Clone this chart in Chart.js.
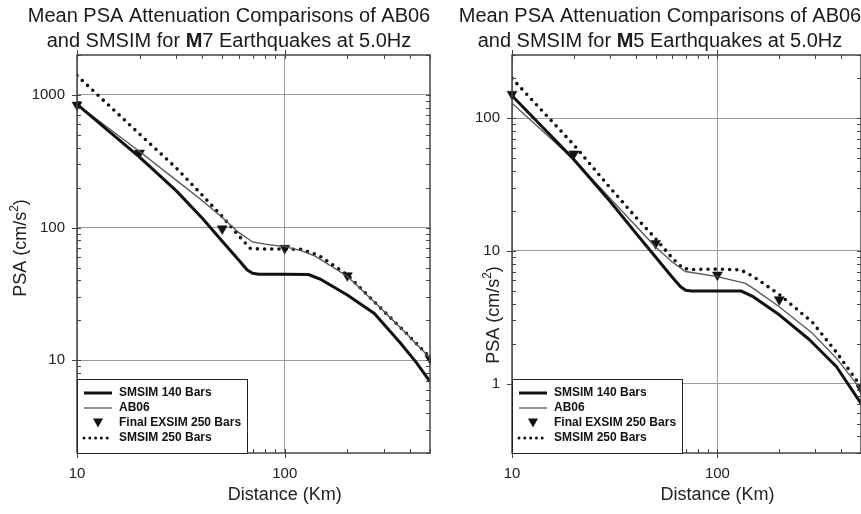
<!DOCTYPE html>
<html>
<head>
<meta charset="utf-8">
<script src="https://cdn.jsdelivr.net/npm/chart.js@4.4.1/dist/chart.umd.min.js"></script>
<style>
  body { margin: 0; background: #fff; }
  #wrap { position: relative; width: 861px; height: 514px; }
  canvas { position: absolute; top: 0; }
  #c1 { left: 0; }
  #c2 { left: 431px; }
</style>
</head>
<body>
<div id="wrap">
  <canvas id="c1" width="431" height="514"></canvas>
  <canvas id="c2" width="430" height="514"></canvas>
</div>
<script>
// ---- M7 panel ----
const m7Dist140 = [10, 20, 30, 40, 50, 60, 66, 70, 75, 100, 130, 150, 200, 270, 360, 430, 500];
const m7Psa140  = [850, 340, 190, 118, 79, 57, 48, 45.2, 44.5, 44.5, 44.3, 40.5, 31, 22.5, 13.5, 9.6, 6.9];
const m7DistAB  = [10, 15, 20, 30, 40, 50, 60, 70, 80, 100, 120, 140, 200, 280, 380, 500];
const m7PsaAB   = [850, 525, 375, 228, 160, 119, 92, 78, 75, 72, 67, 61, 43, 26, 16.2, 10.4];
const m7Dist250 = [10, 20, 30, 40, 50, 60, 68, 75, 100, 120, 141, 150, 200, 280, 380, 500];
const m7Psa250  = [1400, 507, 282, 176, 121, 87, 70, 69, 69, 68.5, 63, 60, 44, 26, 16.3, 10.5];
const m7DistEx  = [10, 20, 50, 100, 200, 500];
const m7PsaEx   = [840, 365, 98, 70, 43.5, 10.3];
const m7YTicks  = [2, 3, 4, 5, 6, 7, 8, 9, 10, 20, 30, 40, 50, 60, 70, 80, 90,
                   100, 200, 300, 400, 500, 600, 700, 800, 900, 1000, 2000];
const m7YLabels = [10, 100, 1000];

// ---- M5 panel ----
const m5Dist140 = [10, 20, 30, 40, 50, 60, 66, 70, 75, 100, 130, 150, 200, 280, 380, 500];
const m5Psa140  = [148, 49, 23.7, 13.7, 9.0, 6.4, 5.4, 5.05, 5.0, 5.0, 5.0, 4.5, 3.3, 2.15, 1.34, 0.71];
const m5DistAB  = [10, 20, 30, 40, 50, 60, 70, 100, 137, 150, 200, 290, 380, 500];
const m5PsaAB   = [130, 49, 25, 15.5, 10.7, 8.3, 7.0, 6.4, 5.7, 5.2, 3.8, 2.4, 1.55, 0.9];
const m5Dist250 = [10, 20, 30, 40, 50, 60, 68, 75, 100, 130, 150, 200, 290, 380, 500];
const m5Psa250  = [200, 63, 30, 18, 12.4, 8.9, 7.4, 7.25, 7.3, 7.2, 6.4, 4.7, 2.9, 1.72, 0.95];
const m5DistEx  = [10, 20, 50, 100, 200, 500];
const m5PsaEx   = [152, 54, 11.4, 6.6, 4.3, 0.92];
const m5YTicks  = [0.3, 0.4, 0.5, 0.6, 0.7, 0.8, 0.9, 1, 2, 3, 4, 5, 6, 7, 8, 9,
                   10, 20, 30, 40, 50, 60, 70, 80, 90, 100, 200, 300];
const m5YLabels = [1, 10, 100];

// ---- shared x axis ----
const xTicks  = [10, 20, 30, 40, 50, 60, 70, 80, 90, 100, 200, 300, 400, 500];
const xLabels = [10, 100];

const FONT = "'Liberation Sans', Arial, sans-serif";

function pts(xs, ys) {
  return xs.map((x, i) => ({ x: x, y: ys[i] }));
}

const framePlugin = {
  id: 'frame',
  afterDraw(chart, args, o) {
    const ctx = chart.ctx, a = chart.chartArea;
    const xs = chart.scales.x, ys = chart.scales.y;
    ctx.save();

    // inward ticks, majors cross the axis
    ctx.strokeStyle = '#444';
    ctx.lineWidth = 1;
    ctx.beginPath();
    xs.ticks.forEach(t => {
      const px = Math.round(xs.getPixelForValue(t.value)) + 0.5;
      const major = xLabels.includes(t.value);
      ctx.moveTo(px, a.bottom + (major ? 5 : 0)); ctx.lineTo(px, a.bottom - 4);
      ctx.moveTo(px, a.top - (major ? 5 : 0)); ctx.lineTo(px, a.top + 4);
    });
    ys.ticks.forEach(t => {
      const py = Math.round(ys.getPixelForValue(t.value)) + 0.5;
      const major = o.yLabels.includes(t.value);
      ctx.moveTo(a.left - (major ? 5 : 0), py); ctx.lineTo(a.left + 4, py);
      ctx.moveTo(a.right + (major ? 5 : 0), py); ctx.lineTo(a.right - 4, py);
    });
    ctx.stroke();

    ctx.lineWidth = 1.5;
    ctx.strokeStyle = '#444';
    ctx.strokeRect(a.left, a.top, a.right - a.left, a.bottom - a.top);

    // main title, with bold M
    ctx.fillStyle = '#1a1a1a';
    ctx.textBaseline = 'alphabetic';
    ctx.textAlign = 'left';
    const reg = '20px ' + FONT, bold = 'bold 20px ' + FONT;
    ctx.font = reg;
    const l1 = 'Mean PSA Attenuation Comparisons of AB06';
    ctx.fillText(l1, o.titleX - ctx.measureText(l1).width / 2, 22);
    const p1 = 'and SMSIM for ', p2 = 'M', p3 = o.mag + ' Earthquakes at 5.0Hz';
    const w1 = ctx.measureText(p1).width, w3 = ctx.measureText(p3).width;
    ctx.font = bold;
    const w2 = ctx.measureText(p2).width;
    let x = o.titleX - (w1 + w2 + w3) / 2;
    ctx.font = reg; ctx.fillText(p1, x, 46.5); x += w1;
    ctx.font = bold; ctx.fillText(p2, x, 46.5); x += w2;
    ctx.font = reg; ctx.fillText(p3, x, 46.5);

    // x axis title
    ctx.font = '18px ' + FONT;
    ctx.textAlign = 'center';
    ctx.textBaseline = 'middle';
    ctx.fillStyle = '#222';
    ctx.fillText('Distance (Km)', xs.getPixelForValue(100), 495);

    // y axis title with superscript
    ctx.save();
    ctx.translate(o.yTitleX, o.yTitleY);
    ctx.rotate(-Math.PI / 2);
    ctx.textAlign = 'left';
    const s1 = 'PSA (cm/s', s2 = '2', s3 = ')';
    ctx.font = '18px ' + FONT;
    const q1 = ctx.measureText(s1).width, q3 = ctx.measureText(s3).width;
    ctx.font = '12px ' + FONT;
    const q2 = ctx.measureText(s2).width;
    let yx = -(q1 + q2 + q3) / 2;
    ctx.font = '18px ' + FONT; ctx.fillText(s1, yx, 0); yx += q1;
    ctx.font = '12px ' + FONT; ctx.fillText(s2, yx, -6); yx += q2;
    ctx.font = '18px ' + FONT; ctx.fillText(s3, yx, 0);
    ctx.restore();

    // legend box in lower-left corner
    const bx = a.left, by = a.bottom - 74, bw = 170, bh = 74;
    ctx.fillStyle = '#fff';
    ctx.fillRect(bx, by, bw, bh);
    ctx.lineWidth = 1;
    ctx.strokeStyle = '#222';
    ctx.strokeRect(bx + 0.5, by + 0.5, bw, bh);
    const rows = [a.bottom - 60, a.bottom - 45, a.bottom - 30.5, a.bottom - 15];
    chart.data.datasets.forEach((ds, i) => {
      const ry = rows[i];
      ctx.save();
      if (ds.showLine === false) {
        ctx.fillStyle = ds.backgroundColor;
        ctx.beginPath();
        ctx.moveTo(bx + 16, ry - 4);
        ctx.lineTo(bx + 26, ry - 4);
        ctx.lineTo(bx + 21, ry + 5);
        ctx.closePath();
        ctx.fill();
      } else {
        ctx.strokeStyle = ds.borderColor;
        ctx.lineWidth = ds.borderDash ? 3 : ds.borderWidth;
        ctx.lineCap = ds.borderDash ? 'round' : 'butt';
        ctx.setLineDash(ds.borderDash ? [0, 5.8] : []);
        ctx.beginPath();
        ctx.moveTo(bx + 7, ry);
        ctx.lineTo(bx + 35, ry);
        ctx.stroke();
      }
      ctx.restore();
      ctx.fillStyle = '#111';
      ctx.font = 'bold 12px ' + FONT;
      ctx.textAlign = 'left';
      ctx.textBaseline = 'middle';
      ctx.fillText(ds.label, bx + 42, ry);
    });

    ctx.restore();
  }
};

function makeChart(id, o) {
  new Chart(document.getElementById(id), {
    type: 'line',
    data: {
      datasets: [
        { label: 'SMSIM 140 Bars', data: pts(o.d140, o.v140), borderColor: '#111',
          borderWidth: 3, pointRadius: 0, tension: 0, borderJoinStyle: 'round' },
        { label: 'AB06', data: pts(o.dAB, o.vAB), borderColor: '#555',
          borderWidth: 1.3, pointRadius: 0, tension: 0 },
        { label: 'Final EXSIM 250 Bars', data: pts(o.dEx, o.vEx), showLine: false,
          pointStyle: 'triangle', rotation: 180, pointRadius: 5.8,
          backgroundColor: '#111', borderColor: '#111', borderWidth: 0.5, clip: false },
        { label: 'SMSIM 250 Bars', data: pts(o.d250, o.v250), borderColor: '#111',
          borderWidth: 3.6, borderDash: [0, 7.2], borderCapStyle: 'round',
          pointRadius: 0, tension: 0 }
      ]
    },
    options: {
      responsive: false,
      animation: false,
      events: [],
      layout: { autoPadding: false, padding: { top: 55, right: o.padRight, bottom: 0, left: 0 } },
      plugins: {
        legend: { display: false },
        tooltip: { enabled: false },
        frame: { mag: o.mag, yLabels: o.yLabels, titleX: 229, yTitleX: o.yTitleX, yTitleY: o.yTitleY }
      },
      scales: {
        x: {
          type: 'logarithmic', min: 10, max: 500, bounds: 'data',
          afterBuildTicks: s => { s.ticks = xTicks.map(v => ({ value: v })); },
          afterFit: s => { s.height = 61; s.paddingLeft = 0; s.paddingRight = 0; },
          grid: {
            drawTicks: false,
            color: c => (c.tick && xLabels.includes(c.tick.value)) ? '#9a9a9a' : 'rgba(0,0,0,0)',
            lineWidth: 1
          },
          border: { display: false },
          ticks: {
            autoSkip: false, maxRotation: 0, padding: 12, color: '#222',
            font: { family: FONT, size: 15 },
            callback: v => xLabels.includes(v) ? String(v) : ''
          }
        },
        y: {
          type: 'logarithmic', min: o.yMin, max: o.yMax, bounds: 'data',
          afterBuildTicks: s => { s.ticks = o.yTicks.map(v => ({ value: v })); },
          afterFit: s => { s.width = o.axisWidth; s.paddingTop = 0; s.paddingBottom = 0; },
          grid: {
            drawTicks: false,
            color: c => (c.tick && o.yLabels.includes(c.tick.value)) ? '#9a9a9a' : 'rgba(0,0,0,0)',
            lineWidth: 1
          },
          border: { display: false },
          ticks: {
            autoSkip: false, padding: 12, color: '#222',
            font: { family: FONT, size: 15 },
            callback: v => o.yLabels.includes(v) ? String(v) : ''
          }
        }
      }
    },
    plugins: [framePlugin]
  });
}

makeChart('c1', {
  mag: '7', d140: m7Dist140, v140: m7Psa140, dAB: m7DistAB, vAB: m7PsaAB,
  d250: m7Dist250, v250: m7Psa250, dEx: m7DistEx, vEx: m7PsaEx,
  yMin: 2, yMax: 2000, yTicks: m7YTicks, yLabels: m7YLabels,
  axisWidth: 77, padRight: 1, yTitleX: 21, yTitleY: 248
});

makeChart('c2', {
  mag: '5', d140: m5Dist140, v140: m5Psa140, dAB: m5DistAB, vAB: m5PsaAB,
  d250: m5Dist250, v250: m5Psa250, dEx: m5DistEx, vEx: m5PsaEx,
  yMin: 0.3, yMax: 300, yTicks: m5YTicks, yLabels: m5YLabels,
  axisWidth: 81, padRight: 0, yTitleX: 63, yTitleY: 315
});
</script>
</body>
</html>
